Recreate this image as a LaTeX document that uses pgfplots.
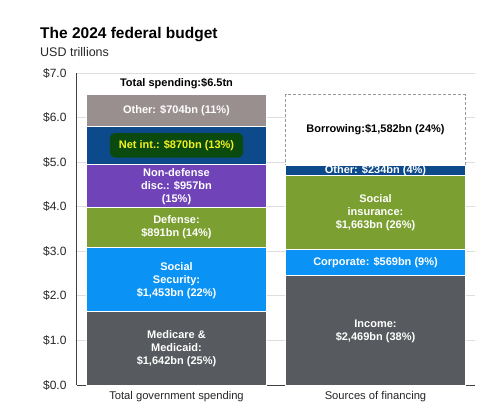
\documentclass[border=0pt]{standalone}
\usepackage{pgfplots}
\pgfplotsset{compat=1.18}
\usepackage{fontspec}
\setmainfont{Liberation Sans}
\definecolor{medgray}{HTML}{575A5E}
\definecolor{ssblue}{HTML}{0A93F5}
\definecolor{defgreen}{HTML}{7B9F30}
\definecolor{ndpurple}{HTML}{7043B8}
\definecolor{intblue}{HTML}{0C4A8C}
\definecolor{othgray}{HTML}{9A8F8F}
\definecolor{hlgreen}{HTML}{0B4A0E}
\definecolor{hlyellow}{HTML}{F2F21A}
\pgfplotsset{
  base/.style={at={(77pt,23pt)}, anchor=south west, width=398pt, height=312pt,
    scale only axis, xmin=-0.5, xmax=1.5, ymin=0, ymax=7,
    ybar stacked, bar width=180pt},
  seg/.style={draw=white, line width=0.8pt, fill=#1},
}
\tikzset{lab/.style={text=white, align=center, font=\bfseries\fontsize{11}{13}\selectfont}}
\begin{document}
\begin{tikzpicture}
\path[use as bounding box] (0pt,0pt) rectangle (498pt,408pt);
\node[anchor=base west, inner sep=0pt, font=\bfseries\fontsize{15.5}{18}\selectfont] at (40pt,369pt) {The 2024 federal budget};
\node[anchor=base west, inner sep=0pt, font=\fontsize{12.5}{15}\selectfont, text=black!85] at (40pt,351pt) {USD trillions};
% left bar with axes and grid
\begin{axis}[base,
  axis x line*=bottom, axis y line*=left,
  axis line style={black!75, line width=1pt},
  tick style={draw=none},
  ymajorgrids, grid style={black!13, line width=0.8pt},
  xtick={0,1}, xticklabels={Total government spending, Sources of financing},
  xticklabel style={font=\fontsize{11.2}{13}\selectfont, text=black!85, yshift=-3pt},
  ytick={0,1,2,3,4,5,6,7},
  yticklabel={\$\pgfmathprintnumber[fixed,fixed zerofill,precision=1]{\tick}},
  yticklabel style={font=\fontsize{12}{14}\selectfont, text=black!85, xshift=-7pt},
  /pgf/number format/assume math mode=true,
]
\addplot[seg=medgray] coordinates {(0,1.642)};
\addplot[seg=ssblue] coordinates {(0,1.453)};
\addplot[seg=defgreen] coordinates {(0,0.891)};
\addplot[seg=ndpurple] coordinates {(0,0.957)};
\addplot[seg=intblue] coordinates {(0,0.870)};
\addplot[seg=othgray] coordinates {(0,0.704)};
\coordinate (L1) at (axis cs:0,6.77);
\coordinate (L2) at (axis cs:0,6.165);
\coordinate (L3) at (axis cs:0,5.378);
\coordinate (L4) at (axis cs:0,4.46);
\coordinate (L5) at (axis cs:0,3.54);
\coordinate (L6) at (axis cs:0,2.35);
\coordinate (L7) at (axis cs:0,0.81);
\coordinate (R1) at (axis cs:1,5.72);
\coordinate (R2) at (axis cs:1,4.818);
\coordinate (R3) at (axis cs:1,3.86);
\coordinate (R4) at (axis cs:1,2.74);
\coordinate (R5) at (axis cs:1,1.21);
\end{axis}
% right bar
\begin{axis}[base, hide axis]
\addplot[seg=medgray] coordinates {(1,2.469)};
\addplot[seg=ssblue] coordinates {(1,0.569)};
\addplot[seg=defgreen] coordinates {(1,1.663)};
\addplot[seg=intblue] coordinates {(1,0.234)};
\addplot[fill=white, draw=black!40, dashed, dash pattern=on 3pt off 2pt, line width=0.9pt] coordinates {(1,1.582)};
\end{axis}
\node[font=\bfseries\fontsize{11}{13}\selectfont] at (L1) {Total spending:\$6.5tn};
\node[lab] at (L2) {Other: \$704bn (11\%)};
\node[fill=hlgreen, text=hlyellow, rounded corners=5pt, inner xsep=9pt, inner ysep=7pt, font=\bfseries\fontsize{11}{13}\selectfont] at (L3) {Net int.: \$870bn (13\%)};
\node[lab] at (L4) {Non-defense\\disc.: \$957bn\\(15\%)};
\node[lab] at (L5) {Defense:\\\$891bn (14\%)};
\node[lab] at (L6) {Social\\Security:\\\$1,453bn (22\%)};
\node[lab] at (L7) {Medicare \&\\Medicaid:\\\$1,642bn (25\%)};
\node[font=\bfseries\fontsize{11}{13}\selectfont] at (R1) {Borrowing:\$1,582bn (24\%)};
\node[lab] at (R2) {Other: \$234bn (4\%)};
\node[lab] at (R3) {Social\\insurance:\\\$1,663bn (26\%)};
\node[lab] at (R4) {Corporate: \$569bn (9\%)};
\node[lab] at (R5) {Income:\\\$2,469bn (38\%)};
\end{tikzpicture}
\end{document}
